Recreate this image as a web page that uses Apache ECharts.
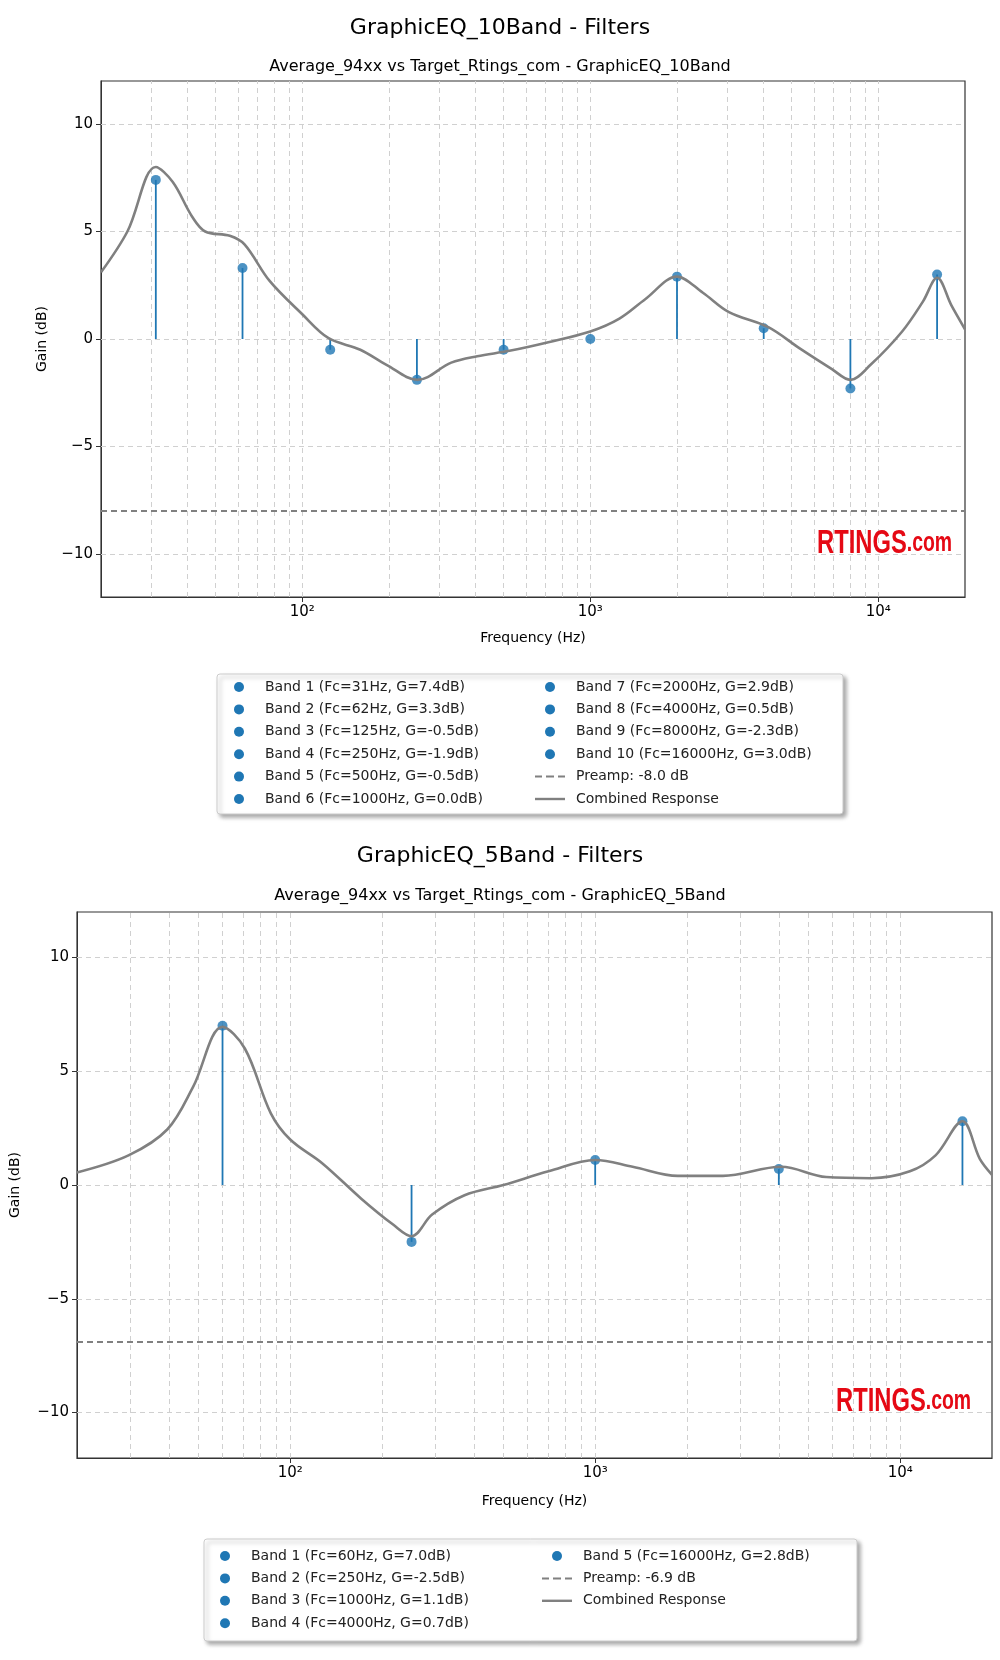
<!DOCTYPE html>
<html><head><meta charset="utf-8">
<script src="https://cdn.jsdelivr.net/npm/echarts@6/dist/echarts.min.js"></script>
<style>html,body{margin:0;padding:0;background:#fff}#c{width:1000px;height:1660px}</style>
</head><body><div id="c"></div>
<script>
// ---- data: chart 1 (10 band) ----
const bands10Fc = [31, 62, 125, 250, 500, 1000, 2000, 4000, 8000, 16000];
const bands10G = [7.4, 3.3, -0.5, -1.9, -0.5, 0.0, 2.9, 0.5, -2.3, 3.0];
const preamp10 = -8.0;
const resp10F = [20, 24.7, 31, 35.5, 41.4, 46, 56, 63, 77, 100, 123, 159, 196, 251, 329, 405, 524, 715, 1000, 1262, 1551, 2000, 2460, 3030, 4150, 5350, 6900, 8000, 9400, 12100, 14300, 16000, 17960, 20000];
const resp10G = [3.1, 5.0, 8.0, 7.3, 5.7, 5.0, 4.8, 4.4, 2.7, 1.15, 0.05, -0.5, -1.2, -1.9, -1.1, -0.8, -0.55, -0.15, 0.35, 0.95, 1.85, 2.9, 2.15, 1.25, 0.55, -0.45, -1.4, -1.9, -1.2, 0.35, 1.75, 2.85, 1.55, 0.45];
// ---- data: chart 2 (5 band) ----
const bands5Fc = [60, 250, 1000, 4000, 16000];
const bands5G = [7.0, -2.5, 1.1, 0.7, 2.8];
const preamp5 = -6.9;
const resp5F = [20, 29.5, 39.6, 48, 60, 71, 86.4, 100, 127.6, 171, 218, 250, 292, 373, 500, 703, 1000, 1327, 1866, 2624, 4070, 5720, 8040, 10760, 13060, 16000, 18240, 20000];
const resp5G = [0.55, 1.3, 2.45, 4.3, 6.95, 6.0, 3.15, 2.0, 0.95, -0.6, -1.75, -2.25, -1.3, -0.45, 0, 0.6, 1.1, 0.8, 0.4, 0.4, 0.8, 0.35, 0.3, 0.6, 1.3, 2.8, 1.15, 0.45];
// ---- axis ticks ----
const xMajor = [100, 1000, 10000];
const xGrid = [30,40,50,60,70,80,90,100,200,300,400,500,600,700,800,900,1000,2000,3000,4000,5000,6000,7000,8000,9000,10000];
const yTicks = [-10, -5, 0, 5, 10];

const FONT = 'DejaVu Sans';
const BLUE = '#1f77b4', GRAY = '#808080';
const sup = {100:'10²',1000:'10³',10000:'10⁴'};

function fmtBand(i, fc, g){ return 'Band ' + (i+1) + ' (Fc=' + fc + 'Hz, G=' + g.toFixed(1) + 'dB)'; }

const option = {
  animation:false,
  textStyle:{fontFamily:FONT},
  title:[
    {text:'GraphicEQ_10Band - Filters', left:'center', top:12, textStyle:{fontFamily:FONT,fontSize:22,fontWeight:'normal',color:'#000'}},
    {text:'Average_94xx vs Target_Rtings_com - GraphicEQ_10Band', left:'center', top:54, textStyle:{fontFamily:FONT,fontSize:16,fontWeight:'normal',color:'#000'}},
    {text:'GraphicEQ_5Band - Filters', left:'center', top:840, textStyle:{fontFamily:FONT,fontSize:22,fontWeight:'normal',color:'#000'}},
    {text:'Average_94xx vs Target_Rtings_com - GraphicEQ_5Band', left:'center', top:883, textStyle:{fontFamily:FONT,fontSize:16,fontWeight:'normal',color:'#000'}}
  ],
  grid:[
    {left:101, right:35, top:81, height:516, show:true, borderColor:'#333', borderWidth:1.2, backgroundColor:'#fff'},
    {left:77, right:8, top:912, height:546, show:true, borderColor:'#333', borderWidth:1.2, backgroundColor:'#fff'}
  ],
  xAxis:[0,1].map(gi => ({
    type:'log', gridIndex:gi, min:20, max:20000, logBase:10,
    name:'Frequency (Hz)', nameLocation:'middle', nameGap: gi===0?34:36,
    nameTextStyle:{fontFamily:FONT,fontSize:14,color:'#000'},
    axisLine:{show:true,onZero:false,lineStyle:{color:'#333'}},
    axisTick:{show:true, customValues:xMajor, length:5, lineStyle:{color:'#333'}},
    axisLabel:{show:true, customValues:xMajor, formatter:v => sup[Math.round(v)]||'', fontSize:15, color:'#000', fontFamily:FONT},
    splitLine:{show:false}, minorTick:{show:false}
  })),
  yAxis:[0,1].map(gi => ({
    type:'value', gridIndex:gi, min:-12, max:12,
    name:'Gain (dB)', nameLocation:'middle', nameGap: gi===0?52:55,
    nameTextStyle:{fontFamily:FONT,fontSize:14,color:'#000'},
    axisLine:{show:true,onZero:false,lineStyle:{color:'#333'}},
    axisTick:{show:true, customValues:yTicks, length:5, lineStyle:{color:'#333'}},
    axisLabel:{show:true, customValues:yTicks, formatter:v => (v<0?'\u2212'+(-v):''+v), fontSize:15, color:'#000', fontFamily:FONT},
    splitLine:{show:false}
  })),
  legend:[],
  graphic:[],
  series:[]
};

function addChart(gi, fcs, gs, preamp, rf, rg, L){
  const names = fcs.map((f,i)=>fmtBand(i,f,gs[i]));
  option.series.push({
    type:'line', name:'Preamp: ' + preamp.toFixed(1) + ' dB', xAxisIndex:gi, yAxisIndex:gi,
    data:[[20,preamp],[20000,preamp]], showSymbol:false, z:3,
    lineStyle:{color:GRAY,width:2,type:[6,4]}, itemStyle:{color:GRAY},
    markLine:{silent:true, symbol:'none', label:{show:false}, z:1,
      lineStyle:{color:'#d0d0d0',width:1,type:[5,4]},
      data: xGrid.map(v=>({xAxis:v})).concat(yTicks.map(v=>({yAxis:v})))}
  });
  fcs.forEach((f,i)=>{
    option.series.push({type:'line', name:names[i], xAxisIndex:gi, yAxisIndex:gi,
      data:[[f,0],[f,gs[i]]], showSymbol:false, lineStyle:{color:BLUE,width:1.8}, itemStyle:{color:BLUE}, z:4});
    option.series.push({type:'scatter', name:names[i], xAxisIndex:gi, yAxisIndex:gi,
      data:[[f,gs[i]]], symbol:'circle', symbolSize:10, itemStyle:{color:BLUE}, z:5});
  });
  option.series.push({type:'line', name:'Combined Response', xAxisIndex:gi, yAxisIndex:gi,
    data: rf.map((f,i)=>[f,rg[i]]), smooth:0.35, showSymbol:false,
    lineStyle:{color:GRAY,width:2.6}, itemStyle:{color:GRAY}, z:6});
  const all = names.map(n=>({name:n, icon:'circle', itemStyle:{color:BLUE}})).concat([
    {name:'Preamp: ' + preamp.toFixed(1) + ' dB', icon:'path://M0,4h7v2h-7zM11,4h8v2h-8zM23,4h7v2h-7z'},
    {name:'Combined Response', icon:'path://M0,3.8h30v2.4h-30z'}]);
  option.graphic.push({type:'rect', shape:{x:L.box[0],y:L.box[1],width:L.box[2],height:L.box[3],r:3},
    style:{fill:'#fff',stroke:'#ccc',lineWidth:1,shadowBlur:4,shadowOffsetX:3,shadowOffsetY:3,shadowColor:'rgba(0,0,0,0.35)'}, z:0});
  L.cols.forEach(c=>{
    option.legend.push({orient:'vertical', left:c.left, top:c.top, data: all.slice(c.from,c.to),
      itemWidth:30, itemHeight:10, itemGap:8.4, textStyle:{fontFamily:FONT,fontSize:14,color:'#222',padding:[0,0,0,6]}, z:10});
  });
  option.graphic.push({type:'text', x:L.wm[0], y:L.wm[1], scaleX:0.72, z:20,
    style:{text:'{a|RTINGS}{b|.com}', rich:{a:{fontFamily:'Liberation Sans',fontWeight:'bold',fontSize:33,fill:'#e50914'},b:{fontFamily:'Liberation Sans',fontWeight:'bold',fontSize:27,fill:'#e50914'}}}});
}

addChart(0, bands10Fc, bands10G, preamp10, resp10F, resp10G, {
  box:[217,674,626,140],
  cols:[{left:229,top:675,from:0,to:6},{left:530,top:675,from:6,to:12}],
  wm:[817,527]
});
addChart(1, bands5Fc, bands5G, preamp5, resp5F, resp5G, {
  box:[204,1539,653,102],
  cols:[{left:215,top:1544,from:0,to:4},{left:537,top:1544,from:4,to:7}],
  wm:[836,1385]
});

const chart = echarts.init(document.getElementById('c'), null, {renderer:'canvas'});
chart.setOption(option);
</script></body></html>
